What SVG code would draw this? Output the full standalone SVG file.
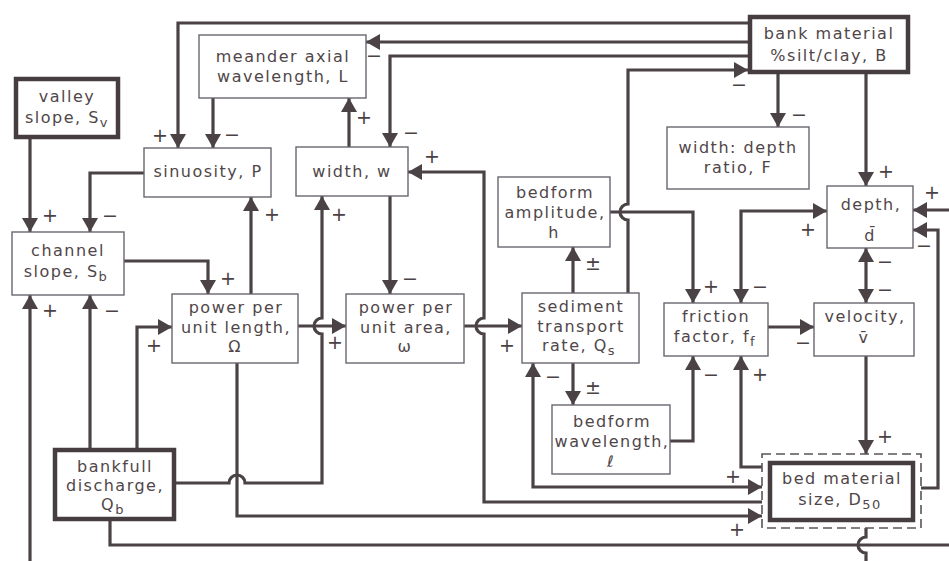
<svg xmlns="http://www.w3.org/2000/svg" width="949" height="561" viewBox="0 0 949 561">
<style>
.bg{fill:#ffffff}
.box{fill:#ffffff;stroke:#6a6670;stroke-width:1.4}
.tbox{fill:#ffffff;stroke:#453d40;stroke-width:4.5}
.dash{fill:none;stroke:#5a5458;stroke-width:1.6;stroke-dasharray:9 5}
.t{font-family:"DejaVu Sans",sans-serif;font-size:16px;letter-spacing:1.5px;fill:#504649;text-anchor:middle}
.sub{font-size:13px}
.c{fill:none;stroke:#4a4244;stroke-width:3.2;stroke-linejoin:miter}
.a{marker-end:url(#ah)}
.b{marker-start:url(#ah);marker-end:url(#ah)}
.s{font-family:"DejaVu Sans",sans-serif;font-size:19px;fill:#4a4244;text-anchor:middle}
</style>
<defs>
<marker id="ah" viewBox="0 0 14 16" refX="14" refY="8" markerWidth="14" markerHeight="16" markerUnits="userSpaceOnUse" orient="auto-start-reverse">
<path d="M0,0 L14,8 L0,16 z" fill="#4a4244"/>
</marker>
</defs>
<rect class="bg" x="0" y="0" width="949" height="561"/>
<g id="connectors">
<path class="c a" d="M748,23 H178 V148"/>
<path class="c a" d="M748,42 H366"/>
<path class="c a" d="M748,56 H390 V147"/>
<path class="c a" d="M628,293 V220 A8,8 0 0 1 628,204 V70 H748"/>
<path class="c a" d="M778,74 V127"/>
<path class="c a" d="M866,74 V186"/>
<path class="c a" d="M30,139 V232"/>
<path class="c a" d="M144,173 H90 V232"/>
<path class="c a" d="M213,98 V148"/>
<path class="c a" d="M349,147 V98"/>
<path class="c a" d="M762,502 H484 V334 A8,8 0 0 1 484,318 V172 H408"/>
<path class="c b" d="M533,363 V487 H762"/>
<path class="c a" d="M237,363 V516 H762"/>
<path class="c" d="M110,521 V545 H949"/>
<path class="c" d="M866,528 V537 A8,8 0 0 0 866,553 V561"/>
<path class="c a" d="M30,561 V295"/>
<path class="c a" d="M949,210 H913"/>
<path class="c a" d="M921,488 H938 V230 H913"/>
<path class="c b" d="M866,248 V303"/>
<path class="c a" d="M866,356 V454"/>
<path class="c a" d="M768,327 H814"/>
<path class="c b" d="M827,211 H741 V303"/>
<path class="c a" d="M610,212 H693 V303"/>
<path class="c a" d="M670,441 H693 V356"/>
<path class="c a" d="M762,467 H741 V356"/>
<path class="c a" d="M573,293 V247"/>
<path class="c a" d="M573,363 V405"/>
<path class="c a" d="M464,326 H522"/>
<path class="c a" d="M390,196 V294"/>
<path class="c a" d="M298,326 H346"/>
<path class="c a" d="M176,483 H229 A8,8 0 0 1 245,483 H322 V334 A8,8 0 0 1 322,318 V196"/>
<path class="c a" d="M251,294 V197"/>
<path class="c a" d="M124,261 H208 V294"/>
<path class="c a" d="M137,448 V327 H172"/>
<path class="c a" d="M90,448 V295"/>
</g>
<g id="signs">
<text class="s" x="160" y="142">+</text>
<text class="s" x="374" y="62">−</text>
<text class="s" x="411" y="139">−</text>
<text class="s" x="739" y="91">−</text>
<text class="s" x="799" y="121">−</text>
<text class="s" x="886" y="178">+</text>
<text class="s" x="50" y="222">+</text>
<text class="s" x="110" y="222">−</text>
<text class="s" x="232" y="141">−</text>
<text class="s" x="364" y="124">+</text>
<text class="s" x="432" y="163">+</text>
<text class="s" x="553" y="383">−</text>
<text class="s" x="733" y="483">+</text>
<text class="s" x="737" y="536">+</text>
<text class="s" x="50" y="317">+</text>
<text class="s" x="932" y="199">+</text>
<text class="s" x="924" y="252">−</text>
<text class="s" x="885" y="268">−</text>
<text class="s" x="885" y="296">−</text>
<text class="s" x="885" y="443">+</text>
<text class="s" x="803" y="349">−</text>
<text class="s" x="808" y="236">+</text>
<text class="s" x="760" y="293">−</text>
<text class="s" x="711" y="293">+</text>
<text class="s" x="711" y="381">−</text>
<text class="s" x="760" y="381">+</text>
<text class="s" x="593" y="270">±</text>
<text class="s" x="593" y="394">±</text>
<text class="s" x="507" y="352">+</text>
<text class="s" x="410" y="285">−</text>
<text class="s" x="335" y="349">+</text>
<text class="s" x="339" y="221">+</text>
<text class="s" x="272" y="221">+</text>
<text class="s" x="228" y="285">+</text>
<text class="s" x="154" y="352">+</text>
<text class="s" x="112" y="317">−</text>
</g>
<g id="valley">
<rect class="tbox" x="16" y="79" width="102" height="58"/>
<text class="t" x="67" y="102">valley</text>
<text class="t" x="67" y="123">slope, S<tspan class="sub" dy="4">v</tspan></text>
</g>
<g id="meander">
<rect class="box" x="199" y="35" width="167" height="63"/>
<text class="t" x="283" y="62">meander axial</text>
<text class="t" x="283" y="82">wavelength, L</text>
</g>
<g id="bank">
<rect class="tbox" x="750" y="17" width="158" height="55"/>
<text class="t" x="829" y="39">bank material</text>
<text class="t" x="829" y="61">%silt/clay, B</text>
</g>
<g id="sinuosity">
<rect class="box" x="144" y="148" width="127" height="49"/>
<text class="t" x="208" y="177">sinuosity, P</text>
</g>
<g id="width">
<rect class="box" x="296" y="147" width="112" height="49"/>
<text class="t" x="352" y="177">width, w</text>
</g>
<g id="ratio">
<rect class="box" x="667" y="127" width="142" height="62"/>
<text class="t" x="738" y="153">width: depth</text>
<text class="t" x="738" y="173">ratio, F</text>
</g>
<g id="depth">
<rect class="box" x="827" y="186" width="86" height="62"/>
<text class="t" x="871" y="210">depth,</text>
<text class="t" x="870" y="241">d̄</text>
</g>
<g id="channel">
<rect class="box" x="12" y="232" width="112" height="63"/>
<text class="t" x="68" y="256">channel</text>
<text class="t" x="66" y="277">slope, S<tspan class="sub" dy="4">b</tspan></text>
</g>
<g id="powerlength">
<rect class="box" x="172" y="294" width="126" height="69"/>
<text class="t" x="236" y="313">power per</text>
<text class="t" x="236" y="333">unit length,</text>
<text class="t" x="235" y="352">Ω</text>
</g>
<g id="powerarea">
<rect class="box" x="346" y="294" width="118" height="69"/>
<text class="t" x="406" y="313">power per</text>
<text class="t" x="406" y="333">unit area,</text>
<text class="t" x="405" y="352">ω</text>
</g>
<g id="amplitude">
<rect class="box" x="498" y="177" width="112" height="70"/>
<text class="t" x="555" y="198">bedform</text>
<text class="t" x="555" y="218">amplitude,</text>
<text class="t" x="554" y="238">h</text>
</g>
<g id="sediment">
<rect class="box" x="522" y="293" width="117" height="70"/>
<text class="t" x="581" y="312">sediment</text>
<text class="t" x="581" y="332">transport</text>
<text class="t" x="579" y="351">rate, Q<tspan class="sub" dy="4">s</tspan></text>
</g>
<g id="friction">
<rect class="box" x="664" y="303" width="104" height="53"/>
<text class="t" x="716" y="322">friction</text>
<text class="t" x="715" y="342">factor, f<tspan class="sub" dy="4">f</tspan></text>
</g>
<g id="velocity">
<rect class="box" x="814" y="303" width="100" height="53"/>
<text class="t" x="865" y="322">velocity,</text>
<text class="t" x="864" y="343">v̄</text>
</g>
<g id="wavelength">
<rect class="box" x="552" y="405" width="118" height="69"/>
<text class="t" x="612" y="427">bedform</text>
<text class="t" x="612" y="447">wavelength,</text>
<text class="t" x="611" y="467">ℓ</text>
</g>
<g id="bedmaterial">
<rect class="dash" x="762" y="454" width="159" height="74"/>
<rect class="tbox" x="770" y="463" width="143" height="57"/>
<text class="t" x="842" y="484">bed material</text>
<text class="t" x="840" y="505">size, D<tspan class="sub" dy="4">50</tspan></text>
</g>
<g id="bankfull">
<rect class="tbox" x="55" y="450" width="119" height="69"/>
<text class="t" x="115" y="472">bankfull</text>
<text class="t" x="115" y="491">discharge,</text>
<text class="t" x="113" y="510">Q<tspan class="sub" dy="4">b</tspan></text>
</g>
</svg>
